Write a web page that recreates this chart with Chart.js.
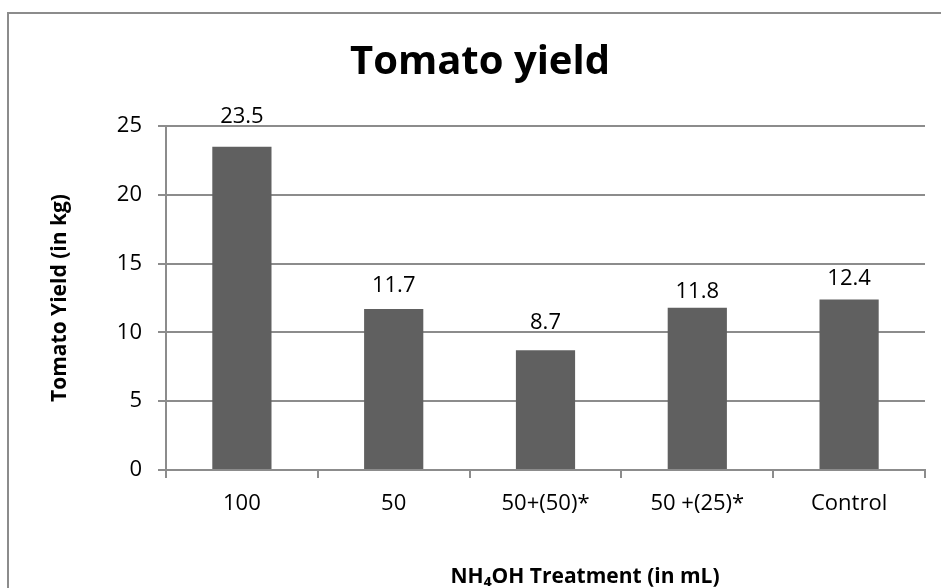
<!DOCTYPE html>
<html>
<head>
<meta charset="utf-8">
<script src="https://cdn.jsdelivr.net/npm/chart.js@4/dist/chart.umd.min.js"></script>
<style>
  body { margin: 0; background: #fff; overflow: hidden; }
  #frame {
    position: absolute; left: 7px; top: 12px;
    width: 960px; height: 620px;
    border: 2px solid #8c8c8c;
  }
  #wrap { position: absolute; left: 8px; top: 13px; width: 944px; height: 600px; }
</style>
</head>
<body>
<div id="frame"></div>
<div id="wrap"><canvas id="chart"></canvas></div>
<script>
const categories = ["100", "50", "50+(50)*", "50 +(25)*", "Control"];
const yields = [23.5, 11.7, 8.7, 11.8, 12.4];
const yTicks = [0, 5, 10, 15, 20, 25];

const axisGray = "#8c8c8c";
const barGray = "#606060";
const font = "'Open Sans', 'DejaVu Sans', sans-serif";

// label lift above the bar top (the reference labels were nudged by hand)
const labelLift = [30, 23, 28, 16, 21];

const valueLabels = {
  id: "valueLabels",
  afterDatasetsDraw(chart) {
    const ctx = chart.ctx;
    const meta = chart.getDatasetMeta(0);
    ctx.save();
    ctx.font = "22px " + font;
    ctx.fillStyle = "#000";
    ctx.textAlign = "center";
    ctx.textBaseline = "middle";
    meta.data.forEach((bar, i) => {
      ctx.fillText(String(yields[i]), bar.x, bar.y - labelLift[i]);
    });
    ctx.restore();
  }
};

const xTitle = {
  id: "xTitle",
  afterDraw(chart) {
    const ctx = chart.ctx;
    ctx.save();
    ctx.font = "bold 21px " + font;
    ctx.fillStyle = "#000";
    ctx.textAlign = "center";
    ctx.textBaseline = "middle";
    ctx.fillText("NH\u2084OH Treatment (in mL)", 577, 564);
    ctx.restore();
  }
};

new Chart(document.getElementById("chart"), {
  type: "bar",
  data: {
    labels: categories,
    datasets: [{
      data: yields,
      backgroundColor: barGray,
      borderWidth: 0,
      categoryPercentage: 1,
      barPercentage: 0.39
    }]
  },
  options: {
    responsive: true,
    maintainAspectRatio: false,
    animation: false,
    layout: { padding: { left: 27, right: 27, top: 0, bottom: 0 } },
    plugins: {
      legend: { display: false },
      tooltip: { enabled: false },
      title: {
        display: true,
        text: "Tomato yield",
        color: "#000",
        font: { family: font, size: 40, weight: "bold" },
        padding: { top: 26, bottom: 39 }
      }
    },
    scales: {
      x: {
        offset: true,
        grid: {
          offset: true,
          drawOnChartArea: false,
          drawTicks: true,
          tickLength: 8,
          color: axisGray,
          lineWidth: 2
        },
        border: { display: true, color: axisGray, width: 2 },
        ticks: { color: "#000", font: { family: font, size: 22 }, padding: 13, maxRotation: 0 },
        afterFit(scale) { scale.height = 143; }
      },
      y: {
        min: 0,
        max: 25,
        afterBuildTicks(scale) { scale.ticks = yTicks.map(v => ({ value: v })); },
        grid: {
          drawTicks: true,
          tickLength: 8,
          color: axisGray,
          lineWidth: 2
        },
        border: { display: true, color: axisGray, width: 2 },
        ticks: { color: "#000", font: { family: font, size: 22 }, padding: 16 },
        title: {
          display: true,
          text: "Tomato Yield (in kg)",
          color: "#000",
          font: { family: font, size: 21, weight: "bold" },
          padding: { top: 12, bottom: 0 }
        },
        afterFit(scale) { scale.width = 131; }
      }
    }
  },
  plugins: [valueLabels, xTitle]
});
</script>
</body>
</html>
